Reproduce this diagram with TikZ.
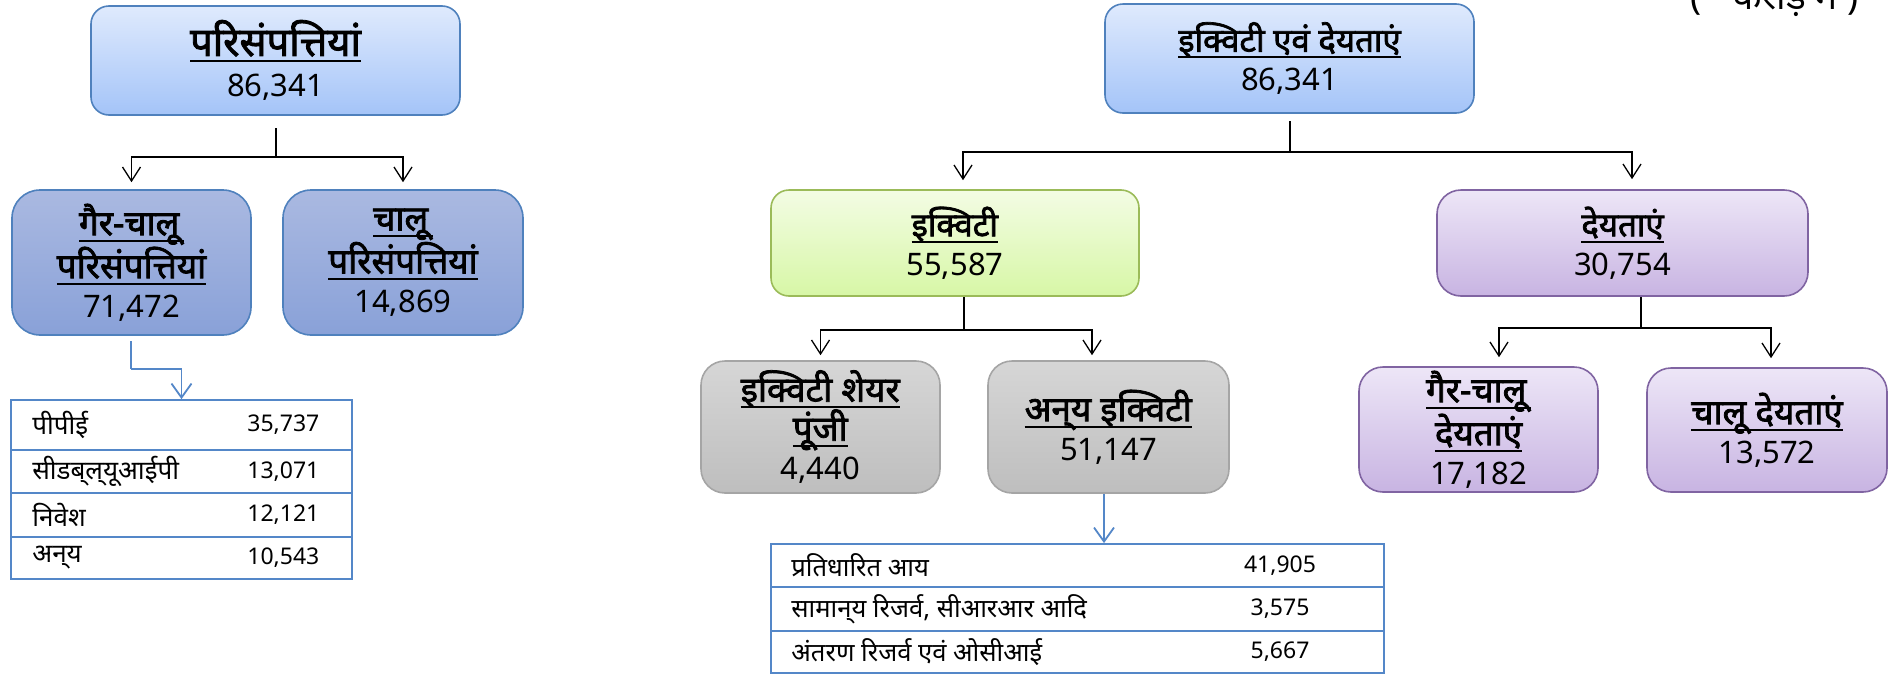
\documentclass[tikz,border=0pt]{standalone}
\usepackage{fontspec}
\newfontfamily\dev[Script=Devanagari,BoldFont={Noto Sans},BoldFeatures={FakeBold=2.2}]{Noto Sans}
\usetikzlibrary{arrows.meta}
\definecolor{bblue}{RGB}{79,129,189}
\definecolor{tblue}{RGB}{84,135,200}
\definecolor{topT}{RGB}{223,234,253}
\definecolor{topB}{RGB}{164,196,248}
\definecolor{asT}{RGB}{170,185,225}
\definecolor{asB}{RGB}{137,161,216}
\definecolor{eqT}{RGB}{243,252,228}
\definecolor{eqB}{RGB}{215,247,166}
\definecolor{eqD}{RGB}{155,187,89}
\definecolor{grT}{RGB}{214,214,214}
\definecolor{grB}{RGB}{190,190,190}
\definecolor{grD}{RGB}{165,165,165}
\definecolor{liT}{RGB}{237,230,247}
\definecolor{liB}{RGB}{200,180,226}
\definecolor{liD}{RGB}{128,100,162}
\newcommand{\ulx}[1]{\leavevmode\setbox0=\hbox{#1}\rlap{\rule[-3.2pt]{\wd0}{1pt}}\box0}
\newcommand{\ttl}[1]{\ulx{\fontsize{17.5}{19.5}\selectfont\textbf{#1}}}
\newcommand{\ttlL}[1]{\ulx{\fontsize{20}{22}\selectfont\textbf{#1}}}
\newcommand{\ttlM}[1]{\ulx{\fontsize{16.5}{19.5}\selectfont\textbf{#1}}}
\begin{document}
\begin{tikzpicture}[x=0.5pt,y=-0.5pt,
  box/.style={rounded corners=9pt, line width=0.8pt, align=center, inner sep=0pt,
    font=\dev\fontsize{15.5}{19.5}\selectfont},
  topbox/.style={box, draw=bblue, top color=topT, bottom color=topB},
  asbox/.style={box, draw=bblue, top color=asT, bottom color=asB, rounded corners=14pt},
  eqbox/.style={box, draw=eqD, top color=eqT, bottom color=eqB},
  grbox/.style={box, draw=grD, top color=grT, bottom color=grB, rounded corners=12pt},
  libox/.style={box, draw=liD, top color=liT, bottom color=liB, rounded corners=12pt},
  conn/.style={line width=0.65pt, black},
  arr/.style={conn, -{Straight Barb[length=7pt,width=9pt]}},
  barr/.style={line width=0.9pt, draw=tblue, -{Straight Barb[length=7pt,width=10pt]}},
  trow/.style={draw=tblue, line width=0.9pt, inner sep=0pt},
  tlab/.style={anchor=west, inner sep=0pt, font=\dev\fontsize{13}{15}\selectfont},
  tnumL/.style={anchor=west, inner sep=0pt, font=\dev\fontsize{11.5}{14}\selectfont},
  tlabM/.style={anchor=west, inner sep=0pt, font=\dev\fontsize{12.8}{15}\selectfont},
  tnum/.style={inner sep=0pt, font=\dev\fontsize{11.5}{14}\selectfont}
]
\useasboundingbox (0,0) rectangle (1894,675);

% ---------- left: assets ----------
\node[topbox, minimum width=184.5pt, minimum height=54.5pt] (pa) at (275.5,60.5)
  {\ttlL{परिसंपत्तियां}\\[1pt]86,341};
\node[asbox, minimum width=119.5pt, minimum height=72.5pt] (nca) at (131.5,262.5)
  {\ttl{गैर-चालू}\\\ttl{परिसंपत्तियां}\\71,472};
\node[asbox, minimum width=120pt, minimum height=72.5pt] (ca) at (403,262.5)
  {\ttl{चालू}\\\ttl{परिसंपत्तियां}\\14,869};

\coordinate (pa-o) at (276,128);
\coordinate (pa-j) at (276,157);
\draw[conn] (pa-o) -- (pa-j);
\draw[arr] (pa-j) -| ([yshift=3.5pt]nca.north);
\draw[arr] (pa-j) -| ([yshift=3.5pt]ca.north);

% table 1
\node[trow, minimum width=170.5pt, minimum height=25pt] (t1a) at (181.5,425) {};
\node[trow, minimum width=170.5pt, minimum height=21.5pt] (t1b) at (181.5,471.5) {};
\node[trow, minimum width=170.5pt, minimum height=22pt] (t1c) at (181.5,515) {};
\node[trow, minimum width=170.5pt, minimum height=21pt] (t1d) at (181.5,558) {};
\node[tlab] (t1a1) at (32,425) {पीपीई};
\node[tnumL] (t1a2) at (247,425) {35,737};
\node[tlab] (t1b1) at (32,471.5) {सीडब्^^^^200cल्^^^^200cयूआईपी};
\node[tnumL] (t1b2) at (247,471.5) {13,071};
\node[tlab] (t1c1) at (32,515) {निवेश};
\node[tnumL] (t1c2) at (247,515) {12,121};
\node[tlab] (t1d1) at (32,558) {अन्^^^^200cय};
\node[tnumL] (t1d2) at (247,558) {10,543};

\coordinate (nca-o) at (131,341);
\coordinate (nca-j) at (131,369);
\draw[line width=0.9pt, draw=tblue] (nca-o) -- (nca-j);
\draw[barr] (nca-j) -| (t1a.north);

% ---------- right: equity and liabilities ----------
\node[topbox, minimum width=184.5pt, minimum height=54.5pt] (el) at (1289.5,58.5)
  {\ttlM{इक्विटी एवं देयताएं}\\86,341};
\node[eqbox, minimum width=184pt, minimum height=53pt] (eq) at (955,243)
  {\ttlM{इक्विटी}\\55,587};
\node[libox, minimum width=185.5pt, minimum height=53pt] (li) at (1622.5,243)
  {\ttlM{देयताएं}\\30,754};

\coordinate (el-o) at (1290,121);
\coordinate (el-j) at (1290,152);
\draw[conn] (el-o) -- (el-j);
\draw[arr] (el-j) -| ([xshift=4pt,yshift=4.5pt]eq.north);
\draw[arr] (el-j) -| ([xshift=4.75pt,yshift=5pt]li.north);

\node[grbox, minimum width=119.5pt, minimum height=66pt] (esc) at (820.5,427)
  {\ttl{इक्विटी शेयर}\\\ttl{पूंजी}\\4,440};
\node[grbox, minimum width=120.5pt, minimum height=66pt] (oe) at (1108.5,427)
  {\ttl{अन्^^^^200cय इक्विटी}\\51,147};

\coordinate (eq-o) at (964,297);
\coordinate (eq-j) at (964,330);
\draw[conn] (eq-o) -- (eq-j);
\draw[arr] (eq-j) -| ([yshift=2.5pt]esc.north);
\draw[arr] (eq-j) -| ([xshift=-8.25pt,yshift=2.5pt]oe.north);

\node[libox, minimum width=119.5pt, minimum height=62.5pt] (ncl) at (1478.5,429.5)
  {\ttl{गैर-चालू}\\\ttl{देयताएं}\\17,182};
\node[libox, minimum width=120pt, minimum height=62pt] (cl) at (1767,430)
  {\ttl{चालू देयताएं}\\13,572};

\coordinate (li-o) at (1641,297);
\coordinate (li-j) at (1641,328);
\draw[conn] (li-o) -- (li-j);
\draw[arr] (li-j) -| ([xshift=10.25pt,yshift=4.5pt]ncl.north);
\draw[arr] (li-j) -| ([xshift=2pt,yshift=4.5pt]cl.north);

% table 2
\node[trow, minimum width=306.5pt, minimum height=21.5pt] (t2a) at (1077.5,565.5) {};
\node[trow, minimum width=306.5pt, minimum height=22pt] (t2b) at (1077.5,609) {};
\node[trow, minimum width=306.5pt, minimum height=21pt] (t2c) at (1077.5,652) {};
\node[tlabM] (t2a1) at (791,565.5) {प्रतिधारित आय};
\node[tnum] (t2a2) at (1280,565.5) {41,905};
\node[tlabM] (t2b1) at (791,609) {सामान्^^^^200cय रिजर्व, सीआरआर आदि};
\node[tnum] (t2b2) at (1280,609) {3,575};
\node[tlabM] (t2c1) at (791,652) {अंतरण रिजर्व एवं ओसीआई};
\node[tnum] (t2c2) at (1280,652) {5,667};

\coordinate (oe-o) at (1104,494);
\draw[barr] (oe-o) -- (oe-o |- t2a.north);

% unit note
\node[anchor=base, inner sep=0pt, font=\dev\fontsize{18.5}{20}\selectfont] (unit) at (1774.5,9)
  {(\hspace{16pt}करोड़ में )};
\end{tikzpicture}
\end{document}
